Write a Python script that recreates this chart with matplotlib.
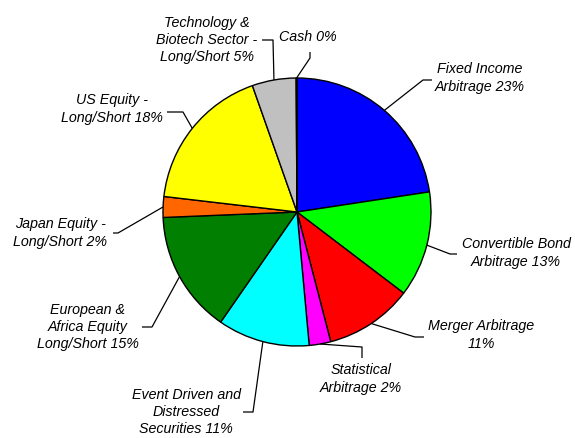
import numpy as np
import matplotlib
matplotlib.use("Agg")
import matplotlib.pyplot as plt

# ---------- data ----------
labels = [
    "Fixed Income\nArbitrage 23%",
    "Convertible Bond\nArbitrage 13%",
    "Merger Arbitrage\n11%",
    "Statistical\nArbitrage 2%",
    "Event Driven and\nDistressed\nSecurities 11%",
    "European &\nAfrica Equity\nLong/Short 15%",
    "Japan Equity -\nLong/Short 2%",
    "US Equity -\nLong/Short 18%",
    "Technology &\nBiotech Sector -\nLong/Short 5%",
    "Cash 0%",
]
values = [22.6, 12.75, 10.6, 2.6, 11.1, 14.7, 2.5, 17.75, 5.3, 0.1]
colors = ["#0000FF", "#00FF00", "#FF0000", "#FF00FF", "#00FFFF",
          "#007F00", "#FF6600", "#FFFF00", "#C0C0C0", "#FFFFFF"]

# ---------- layout (pixel coords, y from top) ----------
W, H = 575, 438
center_px = (297, 212)
radius_px = 134
# text centre, elbow point, end point of leader
text_pos = [(480, 78), (516, 253), (481, 335), (361, 379), (186, 412),
            (88, 327), (60, 233), (112, 109), (207, 40), (308, 37)]
elbows = [(423, 80), (450, 254), (415, 337), (362, 347), (253, 412),
          (152, 327), (118, 233), (183, 112), (273, 40), (310, 58)]
ends = [(432, 80), (457, 254), (424, 337), (362, 358), (243, 412),
        (142, 327), (113, 233), (167, 112), (262, 40), (310, 52)]


def px(p):
    return (p[0], H - p[1])


fig = plt.figure(figsize=(W / 100, H / 100), dpi=100)
ax = fig.add_axes([0, 0, 1, 1])
ax.set_xlim(0, W)
ax.set_ylim(0, H)
ax.set_aspect("equal")
ax.axis("off")

wedges, _ = ax.pie(
    values,
    colors=colors,
    startangle=90,
    counterclock=False,
    center=px(center_px),
    radius=radius_px,
    wedgeprops=dict(edgecolor="black", linewidth=1.0),
    frame=True,
)
ax.set_xlim(0, W)
ax.set_ylim(0, H)
ax.axis("off")

cx, cy = px(center_px)
for w, lab, tp, el, en in zip(wedges, labels, text_pos, elbows, ends):
    mid = np.deg2rad((w.theta1 + w.theta2) / 2)
    edge = (cx + radius_px * np.cos(mid), cy + radius_px * np.sin(mid))
    e1, e2 = px(el), px(en)
    ax.plot([edge[0], e1[0], e2[0]], [edge[1], e1[1], e2[1]],
            color="black", linewidth=0.9, solid_capstyle="butt")
    ax.text(*px(tp), lab, ha="center", va="center", fontsize=10.3,
            fontstyle="italic", family="Liberation Sans",
            linespacing=1.3)

fig.savefig("out.png", dpi=100)
